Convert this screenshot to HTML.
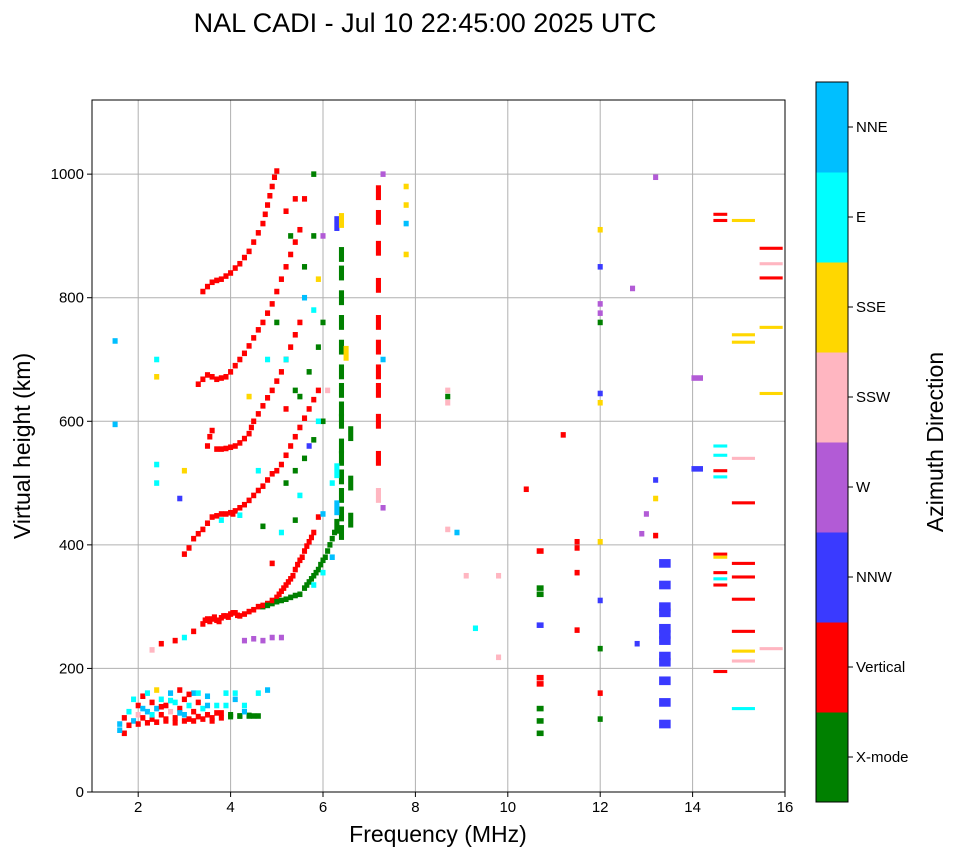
<!DOCTYPE html>
<html><head><meta charset="utf-8"><style>
body{margin:0;background:#fff;width:958px;height:857px;overflow:hidden;font-family:"Liberation Sans",sans-serif}
svg text{font-family:"Liberation Sans",sans-serif}
</style></head><body>
<svg id="chart" width="958" height="857" viewBox="0 0 958 857" xmlns="http://www.w3.org/2000/svg">
<text x="425" y="32" font-size="27" text-anchor="middle">NAL CADI - Jul 10 22:45:00 2025 UTC</text>
<g id="grid"></g>
<g id="marks"></g>
<rect x="92" y="100" width="693" height="692" fill="none" stroke="#000" stroke-width="1"/>
<g id="axes"></g>
<text x="438" y="842" font-size="23" text-anchor="middle">Frequency (MHz)</text>
<text transform="translate(30,446) rotate(-90)" font-size="23" text-anchor="middle">Virtual height (km)</text>
<g id="cbar"></g>
<text transform="translate(943,442) rotate(-90)" font-size="23" text-anchor="middle">Azimuth Direction</text>
</svg>
<script>
const xTicks=[2,4,6,8,10,12,14,16];
const yTicks=[0,200,400,600,800,1000];
const catNames=["X-mode","Vertical","NNW","W","SSW","SSE","E","NNE"];
const catColors=["#008000","#ff0000","#3a3aff","#b25bd6","#ffb6c1","#ffd700","#00ffff","#00bfff"];
const freqs=[1.6,1.7,1.7,1.8,1.9,2.0,2.0,2.1,2.1,2.2,2.2,2.3,2.3,2.4,2.4,2.5,2.5,2.6,2.6,2.7,2.7,2.8,2.8,2.9,2.9,3.0,3.0,3.1,3.1,3.2,3.2,3.3,3.3,3.4,3.5,3.5,3.6,3.7,3.8,3.9,4.0,4.1,4.2,4.3,4.4,4.5,4.6,4.8,
2.3,2.5,2.8,3.0,3.2,3.4,3.5,3.6,3.7,3.8,3.9,4.0,4.1,4.2,4.4,4.6,4.8,5.0,5.1,5.2,5.3,5.4,5.5,5.6,5.7,5.8,5.9,
4.7,4.9,5.1,5.3,5.5,5.6,5.7,5.8,5.9,6.0,6.1,6.2,6.3,5.8,6.0,6.2,4.3,4.5,4.7,4.9,5.1,
3.0,3.2,3.4,3.6,3.8,4.0,4.1,4.3,4.5,4.7,4.9,5.1,5.3,5.5,5.7,5.9,5.2,5.4,5.6,5.8,6.0,4.2,3.8,
3.5,3.6,3.8,4.0,4.2,4.4,4.5,4.7,4.9,5.1,5.3,5.5,5.5,5.7,5.9,6.0,
3.3,3.5,3.7,3.9,4.1,4.3,4.5,4.7,4.9,5.1,5.3,5.5,5.6,5.8,
3.4,3.6,3.8,4.0,4.2,4.4,4.5,4.7,4.8,4.9,5.0,5.2,5.4,5.8,
6.4,6.4,6.4,6.4,6.4,6.4,6.4,6.4,6.4,6.4,6.4,6.4,6.4,6.4,6.4,6.6,6.6,6.6,6.3,6.4,6.5,6.3,6.3,
7.2,7.2,7.2,7.2,7.2,7.2,7.2,7.2,7.2,7.3,7.3,7.2,7.2,7.3,
7.8,7.8,7.8,7.8,
8.7,8.7,8.7,8.7,8.9,9.1,9.3,9.8,9.8,10.4,10.7,10.7,10.7,10.7,10.7,10.7,10.7,10.7,10.7,11.2,11.5,11.5,11.5,11.5,
12.0,12.0,12.0,12.0,12.0,12.0,12.0,12.0,12.0,12.0,12.0,12.0,12.7,13.2,13.2,13.2,13.0,12.9,13.2,12.8,
13.4,13.4,13.4,13.4,13.4,13.4,13.4,13.4,13.4,13.4,13.4,13.4,14.1,14.1,
14.6,14.6,14.6,14.6,14.6,14.6,14.6,14.6,14.6,14.6,14.6,14.6,
15.1,15.1,15.1,15.1,15.1,15.1,15.1,15.1,15.1,15.1,15.1,15.1,15.7,15.7,15.7,15.7,15.7,15.7,
1.5,1.5,2.4,2.4,2.4,2.4,2.9,3.0,
1.6,1.8,2.0,2.2,2.4,2.6,2.8,3.0,3.2,3.4,3.6,3.8,4.0,4.2,4.4,4.6,1.9,2.1,2.3,2.5,2.7,2.9,3.1,3.3,3.5,3.7,3.9,4.1,4.3,
3.45,3.55,3.65,3.75,3.85,3.95,4.05,4.15,4.3,4.5,4.7,4.9,5.05,5.15,5.25,5.35,5.45,5.55,5.65,5.75,
4.8,5.0,5.2,5.4,5.65,5.75,5.85,5.95,6.05,6.15,6.25,
3.1,3.3,3.5,3.7,3.9,4.05,4.2,4.4,4.6,4.8,5.0,5.2,5.4,5.6,5.8,
3.55,3.7,3.9,4.1,4.3,4.45,4.6,4.8,5.0,5.2,5.4,
3.4,3.6,3.8,4.0,4.2,4.4,4.6,4.8,5.0,5.2,5.4,
3.5,3.7,3.9,4.1,4.3,4.6,4.75,4.85,4.95,
5.2,5.4,5.6,5.8,5.9,6.0,5.5,5.7,5.9,6.1,5.3,5.6,6.2,6.0,5.1,4.9,4.7,4.6,4.4,4.8,5.0,5.2,5.4];
const heights=[110,120,95,130,115,140,125,155,120,130,160,145,118,135,165,125,150,140,118,160,130,120,145,135,165,125,150,118,140,130,160,122,145,135,125,155,120,140,128,160,125,150,123,140,123,123,160,165,
230,240,245,250,260,272,280,280,278,282,285,288,290,285,292,300,305,315,325,335,345,360,375,390,405,420,445,
300,305,310,315,320,330,340,350,360,375,390,410,430,335,355,380,245,248,245,250,250,
385,410,425,445,450,452,455,465,480,495,515,530,560,590,620,650,500,520,540,570,600,448,440,
560,585,555,558,565,580,600,625,650,680,720,760,640,680,720,760,
660,675,668,672,690,710,735,760,790,830,870,910,850,900,
810,825,830,840,855,875,890,920,950,980,1005,940,960,1000,
420,450,480,510,540,560,600,620,650,680,720,760,800,840,870,440,500,580,920,925,710,460,520,
600,650,680,720,760,820,880,930,970,1000,700,540,480,460,
980,950,920,870,
650,640,630,425,420,350,265,350,218,490,390,330,320,270,185,175,135,115,95,578,405,395,355,262,
910,850,790,775,760,645,630,405,310,232,160,118,815,995,505,475,450,418,415,240,
370,335,300,290,265,255,245,220,210,180,145,110,670,523,
935,925,560,545,520,510,385,380,355,345,335,195,
925,740,728,540,468,370,348,312,260,228,212,135,880,855,832,752,645,232,
730,595,700,672,530,500,475,520,
100,108,110,112,113,115,112,115,115,118,115,120,122,123,124,123,150,135,125,138,148,128,158,160,140,128,140,160,130,
278,276,283,276,285,283,290,286,288,295,302,310,320,330,340,350,368,380,398,412,
302,308,312,318,335,345,355,368,380,400,420,
395,418,435,447,450,450,460,472,488,505,520,545,575,605,635,
575,555,556,560,572,590,612,638,665,700,740,
668,672,670,680,700,722,748,775,810,850,890,
818,828,835,848,865,905,935,965,995,
700,650,800,780,830,900,480,560,600,650,900,960,500,450,420,370,430,520,640,700,760,620,440];
const cats=[7,1,1,6,7,1,4,1,1,7,6,1,1,7,5,1,6,1,1,7,4,1,6,1,1,7,1,1,6,1,7,1,1,6,1,7,1,6,1,6,0,7,0,6,0,0,6,7,
4,1,1,6,1,1,1,1,1,1,1,1,1,1,1,1,1,1,1,1,1,1,1,1,1,1,1,
0,0,0,0,0,0,0,0,0,0,0,0,0,6,6,7,3,3,3,3,3,
1,1,1,1,1,1,1,1,1,1,1,1,1,1,1,1,0,0,0,0,0,6,6,
1,1,1,1,1,1,1,1,1,1,1,1,0,0,0,0,
1,1,1,1,1,1,1,1,1,1,1,1,0,0,
1,1,1,1,1,1,1,1,1,1,1,1,1,0,
0,0,0,0,0,0,0,0,0,0,0,0,0,0,0,0,0,0,2,5,5,7,6,
1,1,1,1,1,1,1,1,1,3,7,1,4,3,
5,5,7,5,
4,0,4,4,7,4,6,4,4,1,1,0,0,2,1,1,0,0,0,1,1,1,1,1,
5,2,3,3,0,2,5,5,2,0,1,0,3,3,2,5,3,3,1,2,
2,2,2,2,2,2,2,2,2,2,2,2,3,2,
1,1,6,6,1,6,1,5,1,6,1,1,
5,5,5,4,1,1,1,1,1,5,4,6,1,4,1,5,5,4,
7,7,6,5,6,6,2,5,
7,1,1,1,1,1,1,1,1,1,1,1,0,0,0,0,6,7,6,1,6,7,1,6,7,1,6,6,7,
1,1,1,1,1,1,1,1,1,1,1,1,1,1,1,1,1,1,1,1,
0,0,0,0,0,0,0,0,0,0,0,
1,1,1,1,1,1,1,1,1,1,1,1,1,1,1,
1,1,1,1,1,1,1,1,1,1,1,
1,1,1,1,1,1,1,1,1,1,1,
1,1,1,1,1,1,1,1,1,
6,0,7,6,5,3,6,2,6,4,0,1,6,7,6,1,0,6,5,6,0,1,0];
const X0=92,X1=785,Y0=792,Y1=100,FMIN=1,FMAX=16,HMIN=0,HMAX=1120;
const xs=f=>X0+(f-FMIN)/(FMAX-FMIN)*(X1-X0);
const ys=h=>Y0-(h-HMIN)/(HMAX-HMIN)*(Y0-Y1);
const NS="http://www.w3.org/2000/svg";
function mk(t,a,p){const e=document.createElementNS(NS,t);for(const k in a)e.setAttribute(k,a[k]);p.appendChild(e);return e;}
const grid=document.getElementById('grid'),axes=document.getElementById('axes'),marks=document.getElementById('marks'),cbar=document.getElementById('cbar');
xTicks.forEach(t=>{const x=xs(t);
 const g=mk('line',{x1:x,x2:x,y1:Y1,y2:Y0,stroke:'#b0b0b0','stroke-width':1},grid);
 
 
 mk('line',{x1:x,x2:x,y1:Y0,y2:Y0+5,stroke:'#000'},axes);
 const l=mk('text',{x:x,y:Y0+20,'font-size':15,'text-anchor':'middle'},axes);l.textContent=t;
 
 
});
yTicks.forEach(t=>{const y=ys(t);
 const g=mk('line',{x1:X0,x2:X1,y1:y,y2:y,stroke:'#b0b0b0','stroke-width':1},grid);
 
 
 mk('line',{x1:X0-5,x2:X0,y1:y,y2:y,stroke:'#000'},axes);
 const l=mk('text',{x:X0-8,y:y+5,'font-size':15,'text-anchor':'end'},axes);l.textContent=t;
 
 
});
for(let i=0;i<freqs.length;i++){
 const f=freqs[i],h=heights[i];
 const wM=f>=15?0.5:f>=14.5?0.3:f>=13.3?0.25:f>=10.5&&f<11?0.15:0.11;
 const hK=f>=13.3&&f<14?14:f>=14.5?5:((f>=6.3&&f<6.7)||(f>=7.1&&f<7.3))?24:9;
 const r=mk('rect',{x:xs(f)-(xs(wM)-xs(0))/2,y:ys(h)-(ys(0)-ys(hK))/2,width:xs(wM)-xs(0),height:ys(0)-ys(hK),fill:catColors[cats[i]]},marks);
 
 
}
const CX=816,CW=32,CT=82,CB=802,seg=(CB-CT)/catNames.length;
catNames.forEach((n,i)=>{const y=CB-(i+1)*seg;
 const r=mk('rect',{x:CX,y:y,width:CW,height:seg+0.5,fill:catColors[i]},cbar);
 
 
 mk('line',{x1:CX+CW,x2:CX+CW+5,y1:y+seg/2,y2:y+seg/2,stroke:'#000'},cbar);
 const l=mk('text',{x:CX+CW+8,y:y+seg/2+5,'font-size':15},cbar);l.textContent=n;
 
 
});
mk('rect',{x:CX,y:CT,width:CW,height:CB-CT,fill:'none',stroke:'#000'},cbar);
</script>
</body></html>
